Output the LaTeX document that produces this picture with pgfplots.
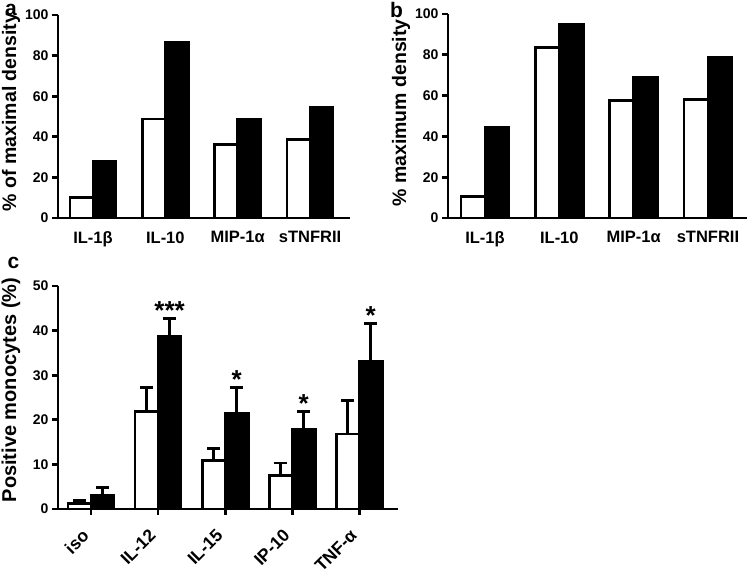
\documentclass[border=0pt]{standalone}
\usepackage{fontspec}
\setmainfont{Liberation Sans}
\usepackage{pgfplots}
\usepackage{pgfplotstable}
\pgfplotsset{compat=1.18}

\pgfplotstableread{
x w b
0 9.9 27.8
1 48.8 86.4
2 36.3 48.4
3 38.8 54.3
}\dataA
\pgfplotstableread{
x w b
0 10.6 44.6
1 83.6 95.1
2 57.4 69.1
3 58.0 78.9
}\dataB
\pgfplotstableread{
x w we b be
0 1.3 0.6 3.1 1.8
1 21.9 5.4 38.7 4.1
2 10.9 2.6 21.5 5.7
3 7.5 2.8 17.8 4.1
4 16.8 7.5 33.2 8.4
}\dataC

\pgfplotsset{
  prism/.style={
    scale only axis,
    axis lines=left,
    axis line style={-, line width=2.8pt, black},
    tick align=outside,
    major tick length=6pt,
    tick style={line width=2.8pt, black},
    ymin=0,
    clip=false,
    /pgf/number format/assume math mode=true,
    yticklabel style={font=\fontsize{14}{14}\selectfont\bfseries},
    xticklabel style={font=\fontsize{16.5}{16.5}\selectfont\bfseries},
  },
  wbar/.style={ybar, bar shift=0pt, fill=white, draw=black, line width=2.8pt},
  bbar/.style={ybar, bar shift=0pt, fill=black, draw=black, line width=2.8pt},
  ebars/.style={error bars/.cd, y dir=plus, y explicit,
    error bar style={line width=2.8pt, black},
    error mark=-,
    error mark options={rotate=90, line width=2.8pt, mark size=6.5pt, black}},
}

\begin{document}
\begin{tikzpicture}[x=1pt,y=1pt]
\useasboundingbox (0,0) rectangle (755,577);

% Panel a
\begin{axis}[prism,
  at={(58pt,359pt)}, anchor=south west,
  width=292pt, height=203pt,
  xmin=-0.484, xmax=3.553, ymax=100,
  ytick={0,20,40,60,80,100},
  xtick={0,1,2,3},
  xticklabels={IL-1β,IL-10,MIP-1α,sTNFRII},
  xtick style={draw=none},
  xticklabel style={yshift=-4pt},
]
\addplot[wbar, bar width=23pt] table[x expr=\thisrow{x}-0.159,y=w]{\dataA};
\addplot[bbar, bar width=23pt] table[x expr=\thisrow{x}+0.159,y=b]{\dataA};
\end{axis}

% Panel b
\begin{axis}[prism,
  at={(448pt,359pt)}, anchor=south west,
  width=299pt, height=204pt,
  xmin=-0.498, xmax=3.525, ymax=100,
  ytick={0,20,40,60,80,100},
  xtick={0,1,2,3},
  xticklabels={IL-1β,IL-10,MIP-1α,sTNFRII},
  xtick style={draw=none},
  xticklabel style={yshift=-4pt},
]
\addplot[wbar, bar width=24pt] table[x expr=\thisrow{x}-0.1615,y=w]{\dataB};
\addplot[bbar, bar width=24pt] table[x expr=\thisrow{x}+0.1615,y=b]{\dataB};
\end{axis}

% Panel c
\begin{axis}[prism,
  at={(58pt,68pt)}, anchor=south west,
  width=340pt, height=223pt,
  xmin=-0.492, xmax=4.577, ymax=50,
  ytick={0,10,20,30,40,50},
  xtick={0,1,2,3,4},
  xticklabels={iso,IL-12,IL-15,IP-10,TNF-α},
  xticklabel style={font=\fontsize{17.5}{17.5}\selectfont\bfseries, xshift=-10pt, yshift=-13pt, rotate=45, anchor=north east, inner sep=0pt},
]
\addplot[wbar, bar width=23pt, ebars] table[x expr=\thisrow{x}-0.1714,y=w,y error=we]{\dataC};
\addplot[bbar, bar width=23pt, ebars] table[x expr=\thisrow{x}+0.1714,y=b,y error=be]{\dataC};
\node[anchor=base, font=\fontsize{26}{26}\selectfont\bfseries, inner sep=0pt, yshift=-1pt] at (axis cs:1.1714,42.8) {***};
\node[anchor=base, font=\fontsize{26}{26}\selectfont\bfseries, inner sep=0pt, yshift=-1pt] at (axis cs:2.1714,27.2) {*};
\node[anchor=base, font=\fontsize{26}{26}\selectfont\bfseries, inner sep=0pt, yshift=-1pt] at (axis cs:3.1714,21.9) {*};
\node[anchor=base, font=\fontsize{26}{26}\selectfont\bfseries, inner sep=0pt, yshift=-1pt] at (axis cs:4.1714,41.6) {*};
\end{axis}

% axis titles and panel letters
\node[rotate=90, font=\fontsize{19.5}{19.5}\selectfont\bfseries] at (11,465) {\% of maximal density};
\node[rotate=90, font=\fontsize{19.5}{19.5}\selectfont\bfseries] at (401,464) {\% maximum density};
\node[rotate=90, font=\fontsize{20}{20}\selectfont\bfseries] at (11,187) {Positive monocytes (\%)};
\node[font=\fontsize{21}{21}\selectfont\bfseries, inner sep=0pt] at (11,567.5) {a};
\node[font=\fontsize{21}{21}\selectfont\bfseries, inner sep=0pt] at (396.5,567) {b};
\node[font=\fontsize{21}{21}\selectfont\bfseries, inner sep=0pt] at (13.5,314.5) {c};
\end{tikzpicture}
\end{document}
